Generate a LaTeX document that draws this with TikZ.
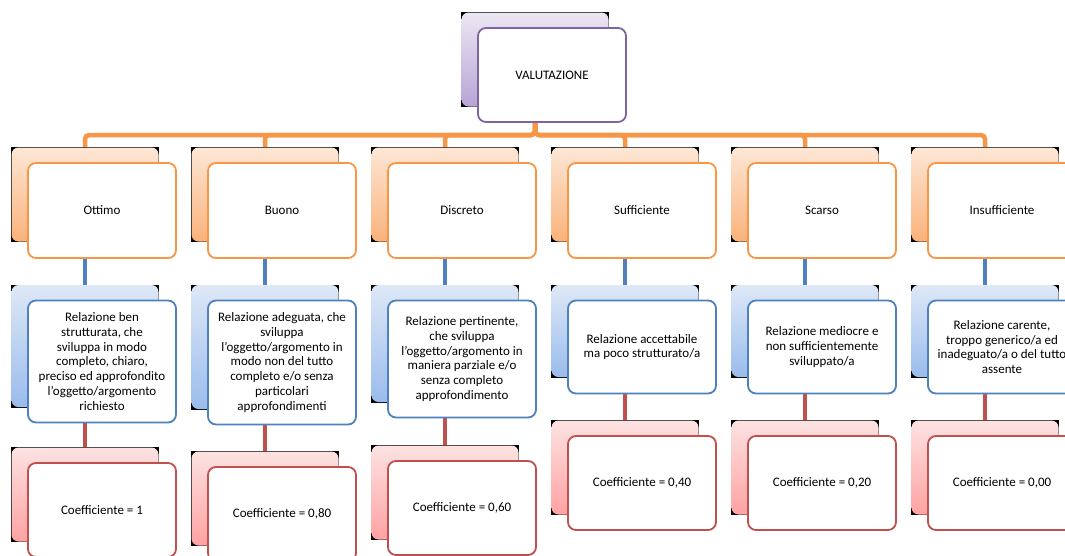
\documentclass[tikz,border=0pt]{standalone}
\usepackage{fontspec}
\setmainfont{Carlito}
\usetikzlibrary{calc}
\pgfdeclarelayer{bg}
\pgfsetlayers{bg,main}
\definecolor{ortop}{HTML}{FDE7D6}
\definecolor{orbot}{HTML}{FAB27A}
\definecolor{orline}{HTML}{F79646}
\definecolor{bltop}{HTML}{DEE8F7}
\definecolor{blbot}{HTML}{9ABCEC}
\definecolor{blline}{HTML}{4F81BD}
\definecolor{rdtop}{HTML}{FDE2E2}
\definecolor{rdbot}{HTML}{FFA2A2}
\definecolor{rdline}{HTML}{C0504D}
\definecolor{putop}{HTML}{ECE7F3}
\definecolor{pubot}{HTML}{B7A3D6}
\definecolor{puline}{HTML}{8064A2}
\tikzset{
  backbox/.style={rectangle, inner sep=0pt, outer sep=0pt, fill=black,
    minimum width=148pt, anchor=north west},
  frontbox/.style={rectangle, rounded corners=8pt, line width=1.8pt, fill=white,
    minimum width=148pt, inner sep=0pt, align=center, anchor=center,
    font=\fontsize{13pt}{14.7pt}\selectfont},
  oline/.style={draw=orline, line width=4.5pt, rounded corners=4pt},
  bline/.style={draw=blline, line width=4.5pt},
  rline/.style={draw=rdline, line width=4.5pt},
}
% #1 name, #2 x, #3 y, #4 back height, #5 front height, #6 colour key, #7 text
\newcommand\mkunit[7]{%
  \node[backbox, minimum height=#4pt] (#1b) at (#2,#3) {};
  \shade[top color=#6top, bottom color=#6bot, rounded corners=7pt]
    ([shift={(0.5pt,-0.5pt)}]#1b.north west) rectangle ([shift={(-0.5pt,0.5pt)}]#1b.south east);
  \node[frontbox, draw=#6line, minimum height=#5pt] (#1f)
    at ([shift={(91pt,-16pt-0.5*#5pt)}]#1b.north west) {#7};
}
% #1 index, #2 x, #3 title, #4 level-2 back h, #5 level-2 front h, #6 level-3 y, #7 desc, #8 coef
\newcommand\mkcol[8]{%
  \mkunit{a#1}{#2}{147}{95}{95}{or}{#3}
  \mkunit{d#1}{#2}{284.5}{#4}{#5}{bl}{#7}
  \mkunit{e#1}{#2}{#6}{95}{94}{rd}{#8}
  \begin{pgfonlayer}{bg}
    \draw[oline] (topb.south) -- (topb.south |- hl) -| (a#1b.north);
    \draw[bline] (a#1b.south) -- (d#1b.north);
    \draw[rline] (d#1b.south) -- (e#1b.north);
  \end{pgfonlayer}
}
\begin{document}
\begin{tikzpicture}[x=1pt, y=-1pt]
\useasboundingbox (0,0) rectangle (1065,555);
\begin{pgfonlayer}{bg}
  \fill[white] (0,0) rectangle (1065,555);
\end{pgfonlayer}
\coordinate (hl) at (0,135);
\mkunit{top}{461}{12}{95}{94}{pu}{VALUTAZIONE}
\mkcol{1}{11}{Ottimo}{123}{122}{447}%
  {Relazione ben\\strutturata, che\\sviluppa in modo\\completo, chiaro,\\preciso ed approfondito\\l’oggetto/argomento\\richiesto}%
  {Coefficiente = 1}
\mkcol{2}{191}{Buono}{125}{124}{451}%
  {Relazione adeguata, che\\sviluppa\\l’oggetto/argomento in\\modo non del tutto\\completo e/o senza\\particolari\\approfondimenti}%
  {Coefficiente = 0,80}
\mkcol{3}{371}{Discreto}{118}{117}{445}%
  {Relazione pertinente,\\che sviluppa\\l’oggetto/argomento in\\maniera parziale e/o\\senza completo\\approfondimento}%
  {Coefficiente = 0,60}
\mkcol{4}{551}{Sufficiente}{93}{93}{420}%
  {Relazione accettabile\\ma poco strutturato/a}%
  {Coefficiente = 0,40}
\mkcol{5}{731}{Scarso}{93}{93}{420}%
  {Relazione mediocre e\\non sufficientemente\\sviluppato/a}%
  {Coefficiente = 0,20}
\mkcol{6}{911}{Insufficiente}{93}{93}{420}%
  {Relazione carente,\\troppo generico/a ed\\inadeguato/a o del tutto\\assente}%
  {Coefficiente = 0,00}
\end{tikzpicture}
\end{document}
